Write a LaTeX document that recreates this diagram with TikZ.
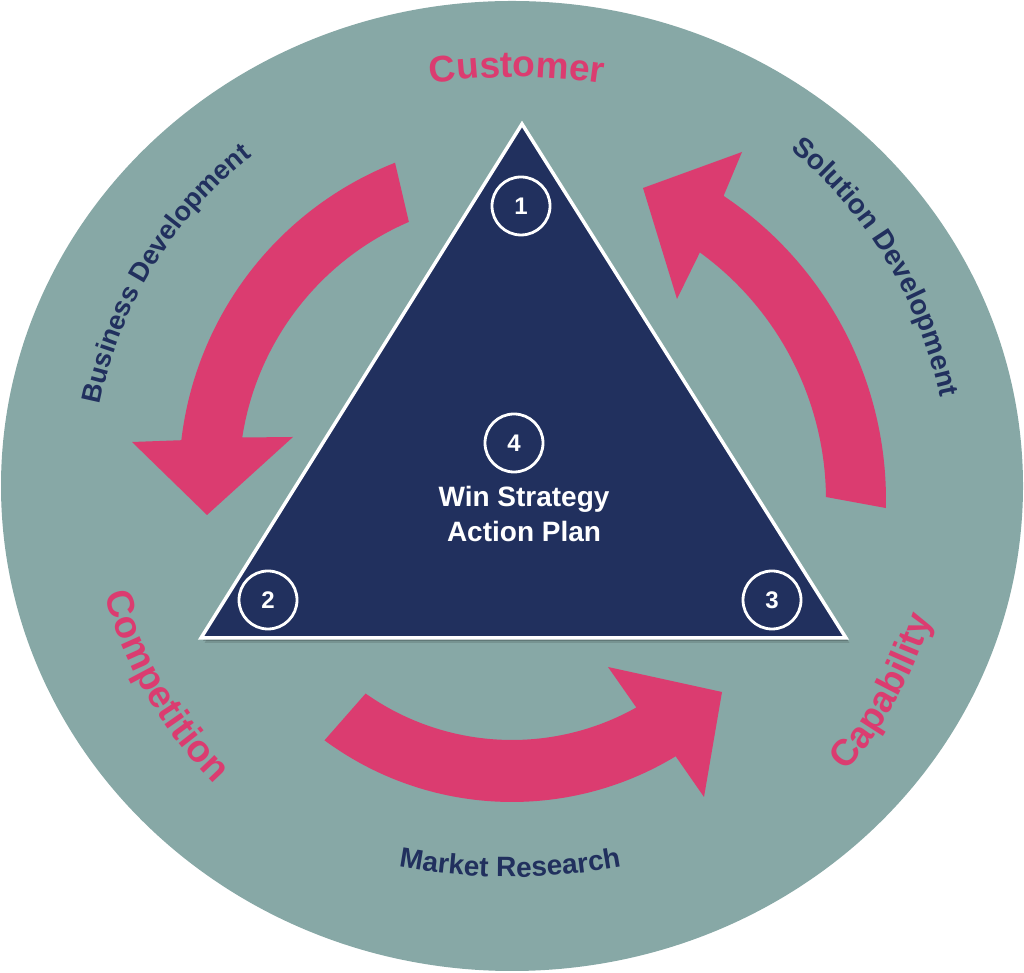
\documentclass[tikz,border=0pt]{standalone}
\usepackage{fontspec}
\setmainfont{Liberation Sans}
\usetikzlibrary{calc,decorations.text}
\definecolor{bgteal}{HTML}{87A8A6}
\definecolor{navy}{HTML}{21305E}
\definecolor{rose}{HTML}{DB3C70}
\newcommand\fsz[1]{\fontsize{#1}{#1}\selectfont\bfseries}
\begin{document}
\begin{tikzpicture}[x=1pt,y=1pt,
  numc/.style={circle, draw=white, line width=2.8pt, minimum size=58pt, inner sep=0pt, text=white, font=\fsz{24}},
  arrowfill/.style={fill=rose},
  wintext/.style={anchor=base, text=white, font=\fsz{28}},
  curvelab/.style 2 args={decorate, decoration={text along path, text align=center, text color=#1, text={#2}}}]
\useasboundingbox (0,0) rectangle (1024,973);
\coordinate (O) at (512,487);
\coordinate (M) at (510,709);
\coordinate (K) at (517,296);
\fill[bgteal] (O) ellipse [x radius=511, y radius=485];

% pink arrows
\fill[arrowfill, shift={(520,493)}] (111.5:341) arc[start angle=111.5, end angle=173.3, radius=341]
  -- (-388,38) -- (-313,-35) -- (-227,43)
  -- (171.3:281) arc[start angle=171.3, end angle=113.3, radius=281] -- cycle;
\fill[arrowfill, shift={(520,473)}] (-1.26:366) arc[start angle=-1.26, end angle=56.2, radius=366]
  -- (222,348) -- (123,312) -- (157,201)
  -- (54:306) arc[start angle=54, end angle=0.56, radius=306] -- cycle;
\fill[arrowfill, shift={(512,487)}] (233.6:316) arc[start angle=233.6, end angle=301.2, radius=316]
  -- (192,-311) -- (210,-206) -- (96,-181)
  -- (299.3:254) arc[start angle=299.3, end angle=234.8, radius=254] -- cycle;

% curved labels
\path[curvelab={navy}{|\fsz{27}|Business Development}] ($(O)+(177.5:420)$) arc[start angle=177.5, end angle=119.5, radius=420];
\path[curvelab={navy}{|\fsz{28}|Solution Development}] ($(O)+(62:437)$) arc[start angle=62, end angle=0, radius=437];
\path[curvelab={navy}{|\fsz{28}|Market Research}] ($(M)+(250:613)$) arc[start angle=250, end angle=290, radius=613];
\path[curvelab={rose}{|\fsz{38}|Competition}] ($(O)+(180:421)$) arc[start angle=180, end angle=240, radius=421];
\path[curvelab={rose}{|\fsz{37}|Capability}] ($(O)+(301:440)$) arc[start angle=301, end angle=361, radius=440];
\path[curvelab={rose}{|\fsz{37}|Customer}] ($(K)+(100:600)$) arc[start angle=100, end angle=80, radius=600];

% triangle
\coordinate (TA) at (522,849);
\coordinate (TB) at (201,335);
\coordinate (TC) at (846,335);
\fill[black, opacity=0.18, transform canvas={xshift=2pt, yshift=-3pt}] (TA) -- (TB) -- (TC) -- cycle;
\fill[black, opacity=0.12, transform canvas={xshift=3.5pt, yshift=-5pt}] (TA) -- (TB) -- (TC) -- cycle;
\filldraw[fill=navy, draw=white, line width=3.5pt, line join=miter] (TA) -- (TB) -- (TC) -- cycle;

\node[numc] (n1) at (521,767) {1};
\node[numc] (n2) at (268,373) {2};
\node[numc] (n3) at (772,373) {3};
\node[numc] (n4) at (514,530) {4};
\node[wintext] (win) at (524,466) {Win Strategy};
\node[wintext] (plan) at (524,431) {Action Plan};
\end{tikzpicture}
\end{document}
